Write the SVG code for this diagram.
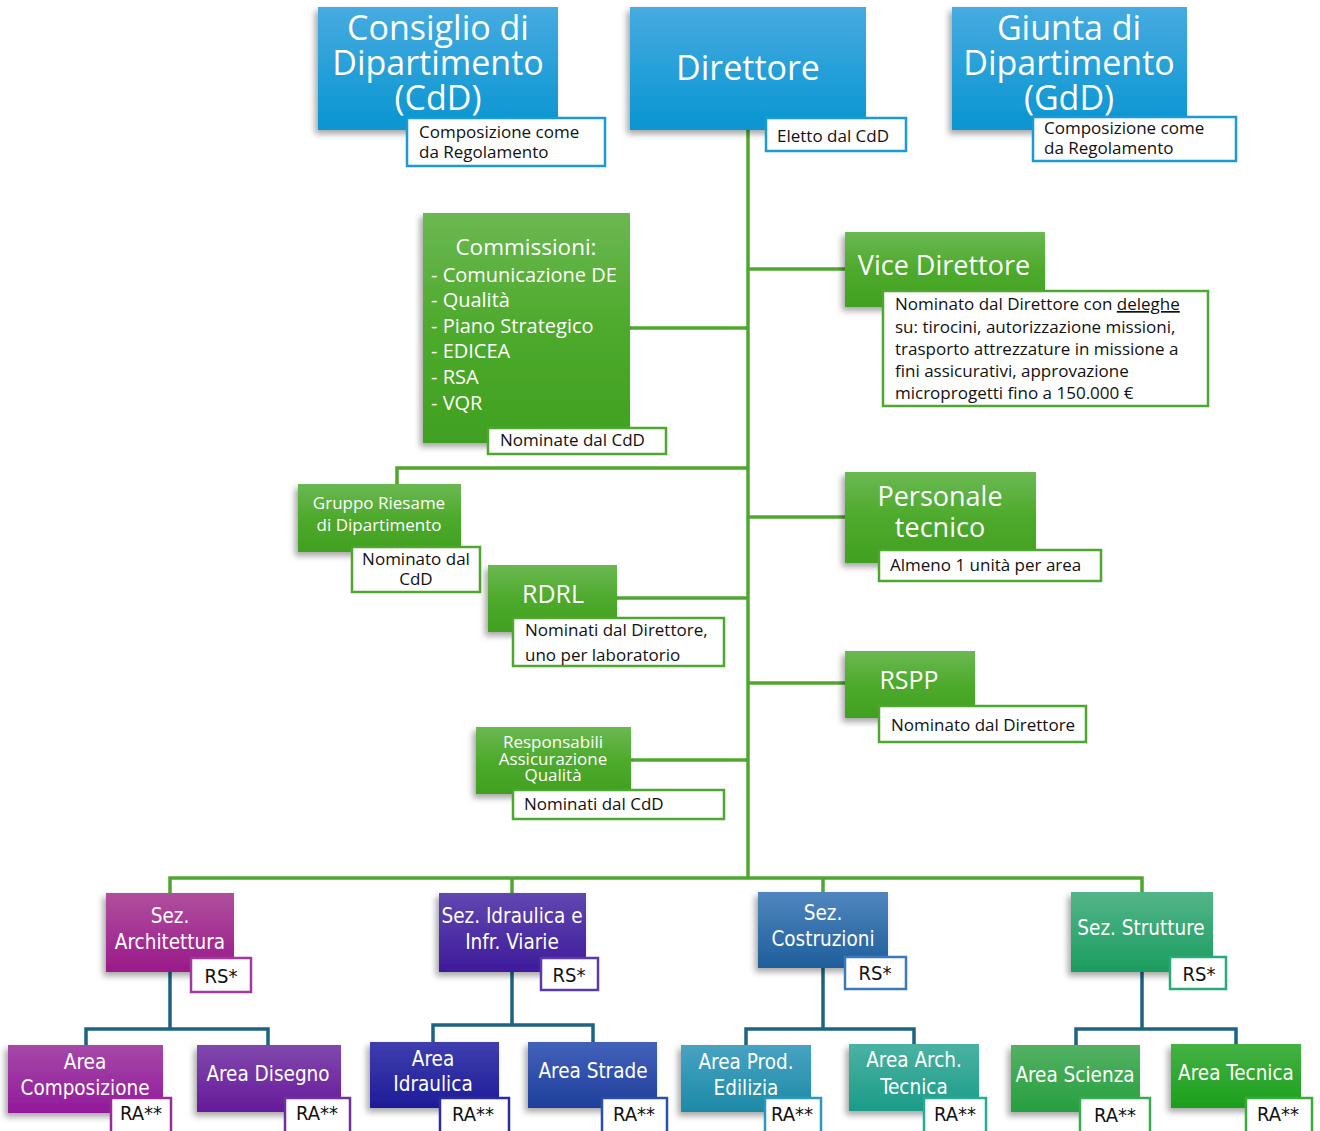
<svg xmlns="http://www.w3.org/2000/svg" width="1320" height="1131" viewBox="0 0 1320 1131">
<defs>
<linearGradient id="gBlue" x1="0" y1="0" x2="0" y2="1"><stop offset="0" stop-color="#46abe0"/><stop offset="1" stop-color="#0895d1"/></linearGradient>
<linearGradient id="gGreen" x1="0" y1="0" x2="0" y2="1"><stop offset="0" stop-color="#6bb852"/><stop offset="0.5" stop-color="#4eaa2c"/><stop offset="1" stop-color="#40a020"/></linearGradient>
<linearGradient id="gArch" x1="0" y1="0" x2="0" y2="1"><stop offset="0" stop-color="#b04e9e"/><stop offset="1" stop-color="#9a1a89"/></linearGradient>
<linearGradient id="gComp" x1="0" y1="0" x2="0" y2="1"><stop offset="0" stop-color="#a549a8"/><stop offset="1" stop-color="#92199b"/></linearGradient>
<linearGradient id="gDis" x1="0" y1="0" x2="0" y2="1"><stop offset="0" stop-color="#8048ad"/><stop offset="1" stop-color="#661a9a"/></linearGradient>
<linearGradient id="gSIdr" x1="0" y1="0" x2="0" y2="1"><stop offset="0" stop-color="#6047b0"/><stop offset="1" stop-color="#3e1b9b"/></linearGradient>
<linearGradient id="gAIdr" x1="0" y1="0" x2="0" y2="1"><stop offset="0" stop-color="#3e3eaf"/><stop offset="1" stop-color="#1e1c98"/></linearGradient>
<linearGradient id="gStr" x1="0" y1="0" x2="0" y2="1"><stop offset="0" stop-color="#4262b9"/><stop offset="1" stop-color="#1f3e9b"/></linearGradient>
<linearGradient id="gCos" x1="0" y1="0" x2="0" y2="1"><stop offset="0" stop-color="#5086be"/><stop offset="1" stop-color="#1e5e9b"/></linearGradient>
<linearGradient id="gProd" x1="0" y1="0" x2="0" y2="1"><stop offset="0" stop-color="#48a2c2"/><stop offset="1" stop-color="#1c8aa7"/></linearGradient>
<linearGradient id="gAT" x1="0" y1="0" x2="0" y2="1"><stop offset="0" stop-color="#4bb2a2"/><stop offset="1" stop-color="#1a9c88"/></linearGradient>
<linearGradient id="gSStr" x1="0" y1="0" x2="0" y2="1"><stop offset="0" stop-color="#52b589"/><stop offset="1" stop-color="#1b9c5f"/></linearGradient>
<linearGradient id="gSci" x1="0" y1="0" x2="0" y2="1"><stop offset="0" stop-color="#53b162"/><stop offset="1" stop-color="#259f3f"/></linearGradient>
<linearGradient id="gTec" x1="0" y1="0" x2="0" y2="1"><stop offset="0" stop-color="#44b244"/><stop offset="1" stop-color="#1c9f1c"/></linearGradient>
<filter id="sh" x="-20%" y="-20%" width="140%" height="150%"><feDropShadow dx="-3" dy="4" stdDeviation="3" flood-color="#000" flood-opacity="0.35"/></filter>
</defs>
<style>
.box{filter:url(#sh)}
.note{fill:#ffffff;stroke-width:2.5}
.nb{stroke:#1a9ad6}
.ng{stroke:#4ea72e}
.w{fill:#ffffff;font-family:"Open Sans","Liberation Sans",sans-serif}
.k{fill:#111111;font-family:"Open Sans","Liberation Sans",sans-serif;font-size:17px}
.wn{fill:#ffffff;font-family:"Liberation Sans Narrow","DejaVu Sans Condensed","Liberation Sans",sans-serif;font-stretch:condensed;font-size:20.5px;text-anchor:middle}
.kn{fill:#111111;font-family:"Liberation Sans Narrow","DejaVu Sans Condensed","Liberation Sans",sans-serif;font-stretch:condensed;font-size:20px;text-anchor:middle}
.c{text-anchor:middle}
.gl{stroke:#4ea72e;stroke-width:3.5;fill:none}
.tl{stroke:#1d6384;stroke-width:3.5;fill:none}
</style>

<g id="connectors">
<path class="gl" d="M748,130 V878"/>
<path class="gl" d="M748,269 H845"/>
<path class="gl" d="M630,328 H748"/>
<path class="gl" d="M748,468 H397 V484"/>
<path class="gl" d="M748,517 H845"/>
<path class="gl" d="M617,598 H748"/>
<path class="gl" d="M748,683 H845"/>
<path class="gl" d="M631,760 H748"/>
<path class="gl" d="M170,893 V878 H1142 V892"/>
<path class="gl" d="M512,878 V893"/>
<path class="gl" d="M823,878 V892"/>
<path class="tl" d="M170,972 V1029"/>
<path class="tl" d="M86,1045 V1029 H268 V1045"/>
<path class="tl" d="M512,972 V1025"/>
<path class="tl" d="M433,1042 V1025 H593 V1042"/>
<path class="tl" d="M823,968 V1029"/>
<path class="tl" d="M746,1045 V1029 H914 V1045"/>
<path class="tl" d="M1142,972 V1029"/>
<path class="tl" d="M1076,1045 V1029 H1236 V1045"/>
</g>

<g id="cdd">
<rect class="box" x="318" y="7" width="240" height="123" fill="url(#gBlue)"/>
<text class="w c" font-size="34" x="438" y="40">Consiglio di</text>
<text class="w c" font-size="34" x="438" y="75">Dipartimento</text>
<text class="w c" font-size="34" x="438" y="110">(CdD)</text>
<rect class="note nb" x="407" y="118" width="198" height="48"/>
<text class="k" x="419" y="138">Composizione come</text>
<text class="k" x="419" y="158">da Regolamento</text>
</g>

<g id="direttore">
<rect class="box" x="630" y="7" width="236" height="123" fill="url(#gBlue)"/>
<text class="w c" font-size="34" x="748" y="80">Direttore</text>
<rect class="note nb" x="766" y="118" width="140" height="33"/>
<text class="k" x="777" y="142">Eletto dal CdD</text>
</g>

<g id="gdd">
<rect class="box" x="952" y="7" width="235" height="123" fill="url(#gBlue)"/>
<text class="w c" font-size="34" x="1069" y="40">Giunta di</text>
<text class="w c" font-size="34" x="1069" y="75">Dipartimento</text>
<text class="w c" font-size="34" x="1069" y="110">(GdD)</text>
<rect class="note nb" x="1033" y="117" width="203" height="44"/>
<text class="k" x="1044" y="134">Composizione come</text>
<text class="k" x="1044" y="154">da Regolamento</text>
</g>

<g id="commissioni">
<rect class="box" x="423" y="213" width="207" height="230" fill="url(#gGreen)"/>
<text class="w c" font-size="22.5" x="526" y="255">Commissioni:</text>
<text class="w" font-size="20" x="431" y="282">- Comunicazione DE</text>
<text class="w" font-size="20" x="431" y="307">- Qualità</text>
<text class="w" font-size="20" x="431" y="333">- Piano Strategico</text>
<text class="w" font-size="20" x="431" y="358">- EDICEA</text>
<text class="w" font-size="20" x="431" y="384">- RSA</text>
<text class="w" font-size="20" x="431" y="410">- VQR</text>
<rect class="note ng" x="488" y="428" width="178" height="26"/>
<text class="k" x="500" y="446">Nominate dal CdD</text>
</g>

<g id="vice">
<rect class="box" x="845" y="232" width="200" height="75" fill="url(#gGreen)"/>
<text class="w c" font-size="27" x="944" y="275">Vice Direttore</text>
<rect class="note ng" x="883" y="291" width="325" height="115"/>
<text class="k" x="895" y="310">Nominato dal Direttore con <tspan text-decoration="underline">deleghe</tspan></text>
<text class="k" x="895" y="333">su: tirocini, autorizzazione missioni,</text>
<text class="k" x="895" y="355">trasporto attrezzature in missione a</text>
<text class="k" x="895" y="377">fini assicurativi, approvazione</text>
<text class="k" x="895" y="399">microprogetti fino a 150.000 €</text>
</g>

<g id="gruppo">
<rect class="box" x="298" y="484" width="163" height="68" fill="url(#gGreen)"/>
<text class="w c" font-size="17" x="379" y="509">Gruppo Riesame</text>
<text class="w c" font-size="17" x="379" y="531">di Dipartimento</text>
<rect class="note ng" x="352" y="547" width="128" height="45"/>
<text class="k c" x="416" y="565">Nominato dal</text>
<text class="k c" x="416" y="585">CdD</text>
</g>

<g id="personale">
<rect class="box" x="845" y="472" width="191" height="91" fill="url(#gGreen)"/>
<text class="w c" font-size="27" x="940" y="506">Personale</text>
<text class="w c" font-size="27" x="940" y="537">tecnico</text>
<rect class="note ng" x="879" y="550" width="222" height="31"/>
<text class="k" x="890" y="571">Almeno 1 unità per area</text>
</g>

<g id="rdrl">
<rect class="box" x="488" y="565" width="129" height="67" fill="url(#gGreen)"/>
<text class="w c" font-size="25" x="553" y="603">RDRL</text>
<rect class="note ng" x="513" y="618" width="211" height="48"/>
<text class="k" x="525" y="636">Nominati dal Direttore,</text>
<text class="k" x="525" y="661">uno per laboratorio</text>
</g>

<g id="rspp">
<rect class="box" x="845" y="651" width="130" height="67" fill="url(#gGreen)"/>
<text class="w c" font-size="25" x="909" y="689">RSPP</text>
<rect class="note ng" x="879" y="706" width="207" height="36"/>
<text class="k" x="891" y="731">Nominato dal Direttore</text>
</g>

<g id="raq">
<rect class="box" x="476" y="727" width="155" height="67" fill="url(#gGreen)"/>
<text class="w c" font-size="17" x="553" y="748">Responsabili</text>
<text class="w c" font-size="17" x="553" y="765">Assicurazione</text>
<text class="w c" font-size="17" x="553" y="781">Qualità</text>
<rect class="note ng" x="513" y="790" width="211" height="29"/>
<text class="k" x="524" y="810">Nominati dal CdD</text>
</g>

<g id="sez-architettura">
<rect class="box" x="106" y="893" width="128" height="79" fill="url(#gArch)"/>
<text class="wn" x="170" y="923">Sez.</text>
<text class="wn" x="170" y="949">Architettura</text>
<rect class="note" stroke="#a3399f" x="191" y="958" width="60" height="34"/>
<text class="kn" x="221" y="983">RS*</text>
</g>

<g id="sez-idraulica">
<rect class="box" x="439" y="893" width="147" height="79" fill="url(#gSIdr)"/>
<text class="wn" x="512" y="923">Sez. Idraulica e</text>
<text class="wn" x="512" y="949">Infr. Viarie</text>
<rect class="note" stroke="#5a3aaa" x="541" y="958" width="57" height="32"/>
<text class="kn" x="569" y="982">RS*</text>
</g>

<g id="sez-costruzioni">
<rect class="box" x="758" y="892" width="130" height="76" fill="url(#gCos)"/>
<text class="wn" x="823" y="920">Sez.</text>
<text class="wn" x="823" y="946">Costruzioni</text>
<rect class="note" stroke="#3a7abc" x="845" y="957" width="61" height="32"/>
<text class="kn" x="875" y="980">RS*</text>
</g>

<g id="sez-strutture">
<rect class="box" x="1071" y="892" width="142" height="80" fill="url(#gSStr)"/>
<text class="wn" x="1141" y="935">Sez. Strutture</text>
<rect class="note" stroke="#2aaa78" x="1170" y="957" width="56" height="32"/>
<text class="kn" x="1199" y="981">RS*</text>
</g>

<g id="area-composizione">
<rect class="box" x="8" y="1045" width="155" height="68" fill="url(#gComp)"/>
<text class="wn" x="85" y="1069">Area</text>
<text class="wn" x="85" y="1095">Composizione</text>
<rect class="note" stroke="#9a2a9c" x="111" y="1098" width="60" height="42"/>
<text class="kn" x="141" y="1120">RA**</text>
</g>

<g id="area-disegno">
<rect class="box" x="197" y="1045" width="144" height="67" fill="url(#gDis)"/>
<text class="wn" x="268" y="1081">Area Disegno</text>
<rect class="note" stroke="#7030a0" x="285" y="1098" width="65" height="42"/>
<text class="kn" x="317" y="1120">RA**</text>
</g>

<g id="area-idraulica">
<rect class="box" x="370" y="1042" width="129" height="66" fill="url(#gAIdr)"/>
<text class="wn" x="433" y="1066">Area</text>
<text class="wn" x="433" y="1091">Idraulica</text>
<rect class="note" stroke="#2b2ca2" x="440" y="1098" width="69" height="42"/>
<text class="kn" x="473" y="1121">RA**</text>
</g>

<g id="area-strade">
<rect class="box" x="528" y="1042" width="129" height="66" fill="url(#gStr)"/>
<text class="wn" x="593" y="1078">Area Strade</text>
<rect class="note" stroke="#2a4eb0" x="602" y="1098" width="65" height="42"/>
<text class="kn" x="634" y="1121">RA**</text>
</g>

<g id="area-prod">
<rect class="box" x="681" y="1045" width="130" height="67" fill="url(#gProd)"/>
<text class="wn" x="746" y="1069">Area Prod.</text>
<text class="wn" x="746" y="1095">Edilizia</text>
<rect class="note" stroke="#2a9ab8" x="765" y="1098" width="56" height="42"/>
<text class="kn" x="792" y="1121">RA**</text>
</g>

<g id="area-archtec">
<rect class="box" x="849" y="1044" width="130" height="67" fill="url(#gAT)"/>
<text class="wn" x="914" y="1067">Area Arch.</text>
<text class="wn" x="914" y="1094">Tecnica</text>
<rect class="note" stroke="#2aa898" x="924" y="1098" width="62" height="42"/>
<text class="kn" x="955" y="1121">RA**</text>
</g>

<g id="area-scienza">
<rect class="box" x="1011" y="1045" width="129" height="67" fill="url(#gSci)"/>
<text class="wn" x="1075" y="1082">Area Scienza</text>
<rect class="note" stroke="#3aaa50" x="1080" y="1098" width="70" height="42"/>
<text class="kn" x="1115" y="1122">RA**</text>
</g>

<g id="area-tecnica">
<rect class="box" x="1171" y="1044" width="130" height="64" fill="url(#gTec)"/>
<text class="wn" x="1236" y="1080">Area Tecnica</text>
<rect class="note" stroke="#3aaa3a" x="1246" y="1098" width="66" height="42"/>
<text class="kn" x="1278" y="1121">RA**</text>
</g>
</svg>
